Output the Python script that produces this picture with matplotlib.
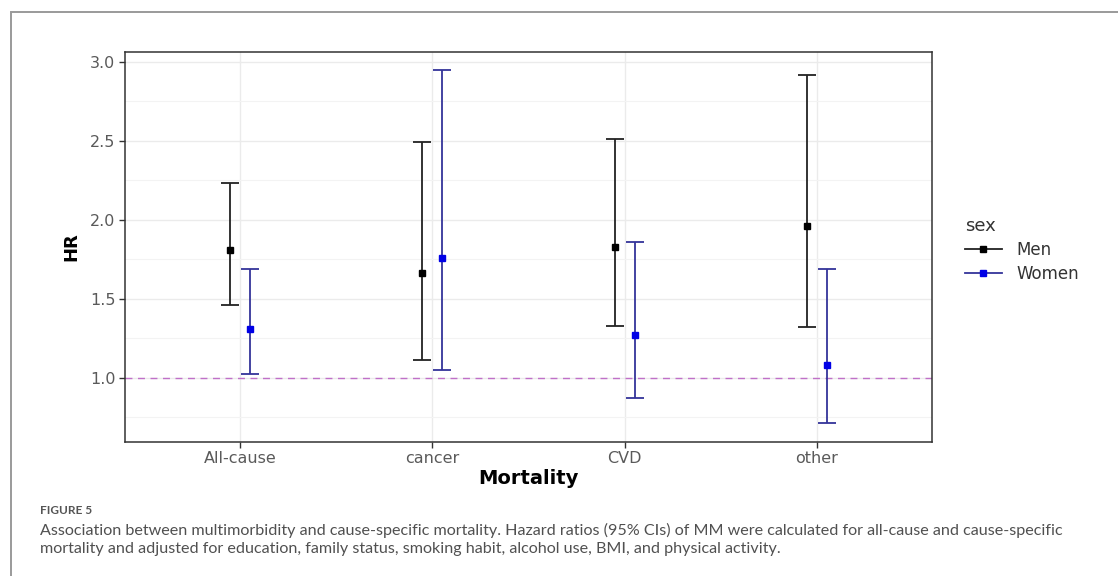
import matplotlib
matplotlib.use("Agg")
import matplotlib.pyplot as plt
from matplotlib.lines import Line2D
from matplotlib.patches import Rectangle
import numpy as np

categories = ["All-cause", "cancer", "CVD", "other"]
men_hr = [1.81, 1.66, 1.83, 1.96]
men_lo = [1.46, 1.11, 1.33, 1.32]
men_hi = [2.23, 2.49, 2.51, 2.92]
women_hr = [1.31, 1.76, 1.27, 1.08]
women_lo = [1.02, 1.05, 0.87, 0.71]
women_hi = [1.69, 2.95, 1.86, 1.69]
yticks = [1.0, 1.5, 2.0, 2.5, 3.0]

plt.rcParams['font.family'] = ['DejaVu Sans']

fig = plt.figure(figsize=(11.18, 5.76), dpi=100)
W, H = 1118, 576

# outer frame
fig.patches.append(Rectangle((11 / W, -0.1), 1.2, 1 - 12 / H + 0.1,
                             transform=fig.transFigure,
                             fill=False, edgecolor="#9a9a9a", linewidth=1.4))

ax = fig.add_axes([125 / W, 1 - 441.7 / H, (932 - 125) / W, (441.7 - 52.3) / H])

x = np.arange(1, len(categories) + 1)
dodge = 0.052
capsize = 6.5
men_color = "#222222"
women_line = "#34349a"
women_pt = "#0000e6"

ax.errorbar(x - dodge, men_hr,
            yerr=[np.array(men_hr) - np.array(men_lo), np.array(men_hi) - np.array(men_hr)],
            fmt='none', ecolor=men_color, elinewidth=1.3, capsize=capsize, capthick=1.3, zorder=3)
ax.plot(x - dodge, men_hr, 's', color="black", markersize=4.2, zorder=4)
ax.errorbar(x + dodge, women_hr,
            yerr=[np.array(women_hr) - np.array(women_lo), np.array(women_hi) - np.array(women_hr)],
            fmt='none', ecolor=women_line, elinewidth=1.3, capsize=capsize, capthick=1.3, zorder=3)
ax.plot(x + dodge, women_hr, 's', color=women_pt, markersize=4.2, zorder=4)

ax.axhline(1.0, color="#c070c8", linestyle=(0, (5, 4)), linewidth=1.0, zorder=2)

ax.set_xlim(0.4, 4.6)
ax.set_ylim(0.594, 3.061)
ax.set_xticks(x)
ax.set_xticklabels(categories)
ax.set_yticks(yticks)
ax.set_yticklabels([f"{v:.1f}" for v in yticks])
ax.set_yticks(np.arange(0.75, 3.0, 0.5), minor=True)

ax.grid(True, which='major', color="#ebebeb", linewidth=1.0, zorder=0)
ax.grid(True, which='minor', axis='y', color="#f3f3f3", linewidth=0.8, zorder=0)
ax.set_axisbelow(True)
for s in ax.spines.values():
    s.set_color("#333333")
    s.set_linewidth(1.1)
ax.tick_params(axis='both', which='major', colors="#333333", labelcolor="#5a5a5a",
               labelsize=11.5, length=4, width=1)
ax.tick_params(axis='y', which='minor', length=0)
ax.tick_params(axis='x', pad=3)
ax.tick_params(axis='y', pad=3)

ax.set_ylabel("HR", fontsize=13, fontweight='bold')
ax.yaxis.set_label_coords((80 - 125) / 807, (441.7 - 247) / 389.4)
ax.set_xlabel("Mortality", fontsize=14, fontweight='bold')
ax.xaxis.set_label_coords(0.5, (441.7 - 469) / 389.4)

# legend
handles = [Line2D([0], [0], color=men_color, lw=1.3, marker='s', markersize=4, markerfacecolor='black', markeredgecolor='black'),
           Line2D([0], [0], color=women_line, lw=1.3, marker='s', markersize=4, markerfacecolor=women_pt, markeredgecolor=women_pt)]
leg = fig.legend(handles, ["Men", "Women"], title="sex", loc='upper left',
                 bbox_to_anchor=(950 / W, 1 - 202 / H), frameon=False,
                 fontsize=12, title_fontsize=13, handlelength=2.2, labelspacing=0.35,
                 handletextpad=0.9, alignment='left')
for t in leg.get_texts():
    t.set_color("#333333")
leg.get_title().set_color("#333333")

# caption
cap_font = ['Lato', 'DejaVu Sans']
fig.text(40 / W, 1 - 511 / H, "FIGURE 5", fontsize=8.5, color="#555555",
         family=cap_font, fontweight='bold', va='center', ha='left')
fig.text(40 / W, 1 - 530 / H,
         "Association between multimorbidity and cause-specific mortality. Hazard ratios (95% CIs) of MM were calculated for all-cause and cause-specific",
         fontsize=11.6, color="#505050", family=cap_font, va='center', ha='left')
fig.text(40 / W, 1 - 549 / H,
         "mortality and adjusted for education, family status, smoking habit, alcohol use, BMI, and physical activity.",
         fontsize=11.6, color="#505050", family=cap_font, va='center', ha='left')

fig.savefig("out.png", dpi=100)
